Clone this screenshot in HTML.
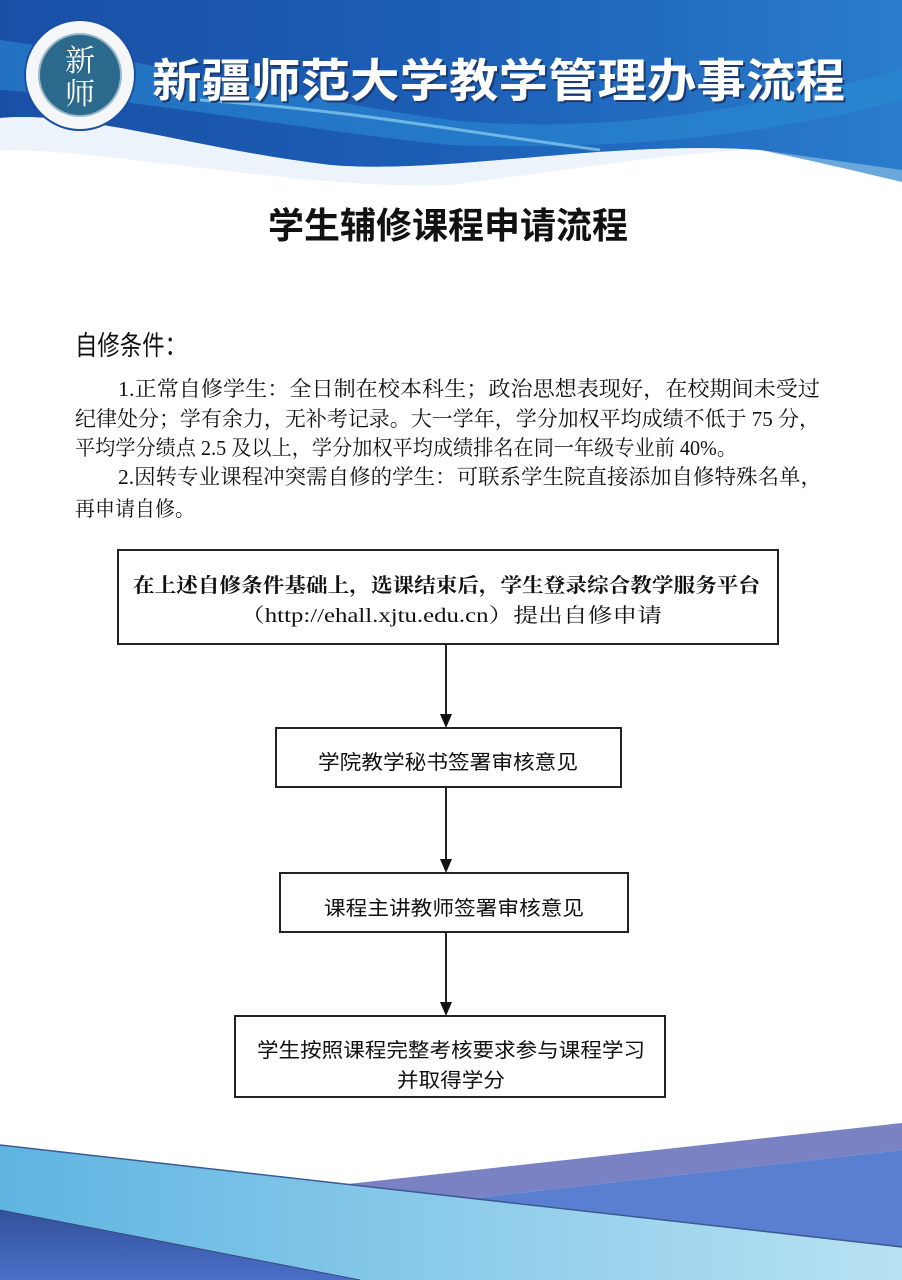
<!DOCTYPE html>
<html><head><meta charset="utf-8"><style>
html,body{margin:0;padding:0;background:#fff}
svg{display:block}
.s{font-family:"Liberation Serif","Noto Serif CJK SC",serif}
.h{font-family:"Liberation Sans","Noto Sans CJK SC",sans-serif}
</style></head><body>
<svg width="902" height="1280" viewBox="0 0 902 1280" xmlns="http://www.w3.org/2000/svg">
<defs>
<linearGradient id="hb" x1="0" y1="0" x2="1" y2="0">
<stop offset="0" stop-color="#1a4fa6"/><stop offset="0.5" stop-color="#1c5fb6"/><stop offset="1" stop-color="#2a7ccc"/>
</linearGradient>
<linearGradient id="lb" x1="0" y1="0" x2="1" y2="0">
<stop offset="0" stop-color="#5fb4e2"/><stop offset="1" stop-color="#b8e2f2"/>
</linearGradient>
<linearGradient id="db" x1="0" y1="0" x2="0" y2="1">
<stop offset="0" stop-color="#2f4d94"/><stop offset="1" stop-color="#4a6fc8"/>
</linearGradient>
</defs>
<!-- header -->
<path d="M0 0 H902 V180 C860 170 800 155 760 150 C600 140 450 175 330 165 C200 150 80 110 0 118 Z" fill="url(#hb)"/>
<path d="M0 118 C80 110 200 150 330 165 C450 175 600 140 760 150 C700 150 600 165 450 185 C300 190 120 150 0 150 Z" fill="#eaf2fa" opacity="0.9"/>
<path d="M0 40 C150 60 300 100 450 120 C600 135 750 110 902 70 V100 C750 140 600 150 450 145 C300 130 150 100 0 90 Z" fill="#2a8ad4" opacity="0.6"/>
<path d="M760 150 L902 170 V182 C860 172 800 158 760 150Z" fill="#6aa8dc"/>
<path d="M200 100 C350 110 450 130 600 150" stroke="#8fd0f0" stroke-width="3" fill="none" opacity="0.7"/>
<!-- logo -->
<circle cx="80" cy="75" r="55" fill="#f4f6f8" stroke="#1a4fa6" stroke-width="2"/>
<circle cx="80" cy="75" r="41" fill="#2b6a8c" stroke="#9bb8c8" stroke-width="2"/>
<text x="80" y="71" font-size="30" fill="#fff" text-anchor="middle" class="s">新</text>
<text x="80" y="104" font-size="30" fill="#fff" text-anchor="middle" class="s">师</text>
<text x="152" y="97" font-size="46" font-weight="bold" fill="#1a3a70" class="h" textLength="693" lengthAdjust="spacingAndGlyphs" transform="translate(2,2)">新疆师范大学教学管理办事流程</text>
<text x="152" y="97" font-size="46" font-weight="bold" fill="#fff" class="h" textLength="693" lengthAdjust="spacingAndGlyphs">新疆师范大学教学管理办事流程</text>
<!-- title -->
<text x="268" y="238" font-size="36" font-weight="bold" fill="#111" class="h" textLength="360" lengthAdjust="spacingAndGlyphs">学生辅修课程申请流程</text>
<text x="75" y="355" font-size="27" fill="#111" class="h" textLength="112" lengthAdjust="spacingAndGlyphs">自修条件：</text>
<g class="s" font-size="21" fill="#111">
<text x="118" y="396" textLength="702" lengthAdjust="spacingAndGlyphs">1.正常自修学生：全日制在校本科生；政治思想表现好，在校期间未受过</text>
<text x="75" y="426" textLength="745" lengthAdjust="spacingAndGlyphs">纪律处分；学有余力，无补考记录。大一学年，学分加权平均成绩不低于 75 分，</text>
<text x="75" y="455" textLength="662" lengthAdjust="spacingAndGlyphs">平均学分绩点 2.5 及以上，学分加权平均成绩排名在同一年级专业前 40%。</text>
<text x="118" y="484" textLength="704" lengthAdjust="spacingAndGlyphs">2.因转专业课程冲突需自修的学生：可联系学生院直接添加自修特殊名单，</text>
<text x="75" y="516" textLength="120" lengthAdjust="spacingAndGlyphs">再申请自修。</text>
</g>
<!-- boxes -->
<g fill="none" stroke="#222" stroke-width="2">
<rect x="118" y="550" width="660" height="94"/>
<rect x="276" y="728" width="345" height="59"/>
<rect x="280" y="873" width="348" height="59"/>
<rect x="235" y="1016" width="430" height="81"/>
<line x1="446" y1="644" x2="446" y2="716"/>
<line x1="446" y1="787" x2="446" y2="861"/>
<line x1="446" y1="932" x2="446" y2="1004"/>
</g>
<g fill="#111">
<polygon points="440,714 452,714 446,728"/>
<polygon points="440,859 452,859 446,873"/>
<polygon points="440,1002 452,1002 446,1016"/>
</g>
<g font-size="20" fill="#111">
<text class="s" font-weight="bold" x="133" y="592" textLength="627" lengthAdjust="spacingAndGlyphs">在上述自修条件基础上，选课结束后，学生登录综合教学服务平台</text>
<text class="s" x="240" y="622" textLength="422" lengthAdjust="spacingAndGlyphs">（http://ehall.xjtu.edu.cn）提出自修申请</text>
<text class="h" x="318" y="769" textLength="260" lengthAdjust="spacingAndGlyphs">学院教学秘书签署审核意见</text>
<text class="h" x="324" y="915" textLength="260" lengthAdjust="spacingAndGlyphs">课程主讲教师签署审核意见</text>
<text class="h" x="257" y="1057" textLength="388" lengthAdjust="spacingAndGlyphs">学生按照课程完整考核要求参与课程学习</text>
<text class="h" x="397" y="1087" textLength="108" lengthAdjust="spacingAndGlyphs">并取得学分</text>
</g>
<!-- footer -->
<path d="M0 1200 L902 1247 V1280 H0 Z" fill="url(#db)"/>
<path d="M257 1194 L902 1123 V1150 L350 1212 Z" fill="#7a82c4"/>
<path d="M350 1212 L902 1150 V1247 Z" fill="#5a7fd0"/>
<path d="M0 1145 L902 1247 V1280 L360 1280 L0 1210 Z" fill="url(#lb)"/>
<path d="M0 1145 L902 1247" stroke="#3a5a90" stroke-width="1.5"/>
<path d="M0 1210 L360 1280" stroke="#3a4a80" stroke-width="1"/>
</svg>
</body></html>
